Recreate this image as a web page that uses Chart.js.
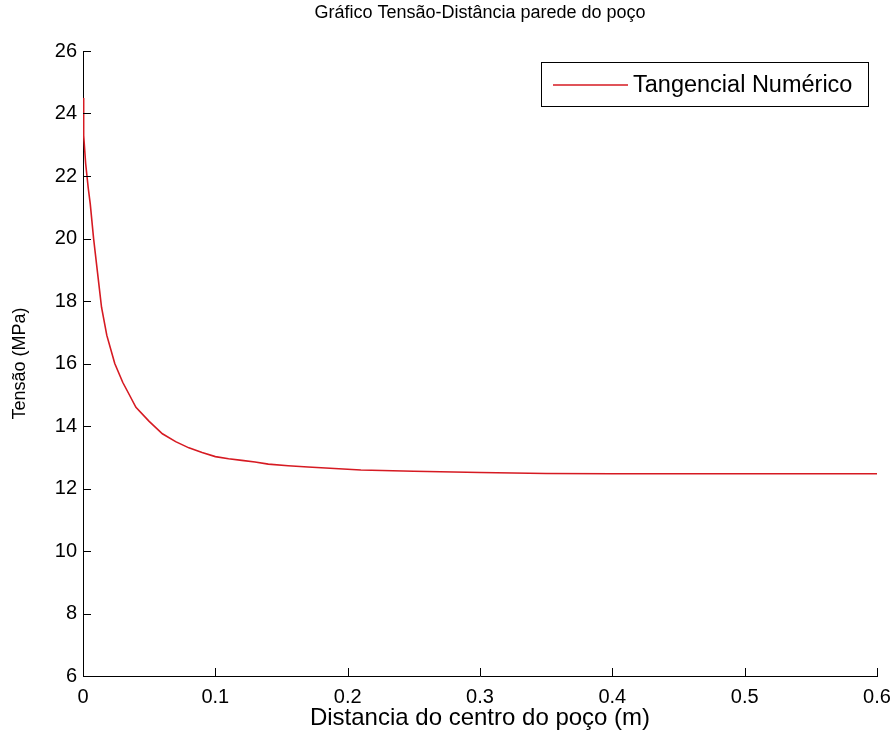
<!DOCTYPE html>
<html>
<head>
<meta charset="utf-8">
<script src="https://cdn.jsdelivr.net/npm/chart.js@4.4.0/dist/chart.umd.min.js"></script>
<style>
  html, body { margin: 0; padding: 0; background: #fff; }
  #wrap { width: 894px; height: 742px; }
</style>
</head>
<body>
<div id="wrap"><canvas id="tensaoChart" width="894" height="742"></canvas></div>
<script>
// distância do centro do poço (m)
const distancia = [0, 0.0005, 0.002, 0.004, 0.0055, 0.008, 0.011, 0.014, 0.018, 0.024, 0.03, 0.035, 0.04,
    0.05, 0.06, 0.07, 0.08, 0.09, 0.1, 0.11, 0.12, 0.13, 0.14, 0.155, 0.17, 0.19, 0.21, 0.25, 0.3,
    0.35, 0.4, 0.5, 0.6];
// tensão tangencial (MPa)
const tangencial = [24.5, 23.3, 22.4, 21.6, 21.1, 20.0, 18.9, 17.8, 16.9, 16.0, 15.4, 15.0, 14.6,
    14.15, 13.75, 13.5, 13.3, 13.15, 13.02, 12.95, 12.9, 12.85, 12.78, 12.73, 12.69, 12.64, 12.59, 12.55, 12.51,
    12.48, 12.47, 12.47, 12.47];
const xTicks = [0, 0.1, 0.2, 0.3, 0.4, 0.5, 0.6];
const yTicks = [6, 8, 10, 12, 14, 16, 18, 20, 22, 24, 26];

const FONT = '"Liberation Sans", Arial, Helvetica, sans-serif';
const lineColor = "rgb(214, 26, 34)";

// titulo, ticks para dentro e legenda no estilo matlab
const matlabStyle = {
    id: "matlabStyle",
    afterDraw(chart) {
        const ctx = chart.ctx;
        const area = chart.chartArea;
        const xs = chart.scales.x;
        const ys = chart.scales.y;
        ctx.save();

        // titulo
        ctx.fillStyle = "#000";
        ctx.font = "18px " + FONT;
        ctx.textAlign = "center";
        ctx.textBaseline = "middle";
        ctx.fillText("Gráfico Tensão-Distância parede do poço", (area.left + area.right) / 2, 13);

        // ticks
        ctx.strokeStyle = "#000";
        ctx.lineWidth = 1;
        ctx.beginPath();
        xTicks.forEach((v) => {
            const px = Math.round(xs.getPixelForValue(v)) + 0.5;
            ctx.moveTo(px, area.bottom);
            ctx.lineTo(px, area.bottom - 8);
        });
        yTicks.forEach((v) => {
            const py = Math.round(ys.getPixelForValue(v)) + 0.5;
            ctx.moveTo(area.left, py);
            ctx.lineTo(area.left + 8, py);
        });
        ctx.stroke();

        // legenda
        const ds = chart.data.datasets[0];
        ctx.fillStyle = "#fff";
        ctx.fillRect(541, 62, 327, 44);
        ctx.strokeStyle = "#000";
        ctx.strokeRect(541.5, 62.5, 327, 44);
        ctx.strokeStyle = ds.borderColor;
        ctx.lineWidth = 1.5;
        ctx.beginPath();
        ctx.moveTo(553, 85);
        ctx.lineTo(628, 85);
        ctx.stroke();
        ctx.fillStyle = "#000";
        ctx.font = "23.5px " + FONT;
        ctx.textAlign = "left";
        ctx.textBaseline = "middle";
        ctx.fillText(ds.label, 633, 86);

        ctx.restore();
    },
};

const ctx = document.getElementById("tensaoChart").getContext("2d");

let tensaoChart = new Chart(ctx, {
    type: "line",
    data: {
        datasets: [
            {
                label: "Tangencial Numérico",
                data: distancia.map((d, i) => ({ x: d, y: tangencial[i] })),
                borderColor: lineColor,
                borderWidth: 1.6,
                pointRadius: 0,
                tension: 0,
                fill: false,
            },
        ],
    },
    options: {
        responsive: false,
        animation: false,
        devicePixelRatio: 1,
        layout: { padding: { top: 51, right: 17, left: 0, bottom: 0 } },
        plugins: {
            legend: { display: false },
            tooltip: { enabled: false },
            title: { display: false },
        },
        scales: {
            x: {
                type: "linear",
                min: 0,
                max: 0.6,
                afterFit: (scale) => {
                    scale.height = 66;
                    scale.paddingLeft = 0;
                    scale.paddingRight = 0;
                },
                afterBuildTicks: (scale) => { scale.ticks = xTicks.map((v) => ({ value: v })); },
                grid: { display: false, drawTicks: false },
                border: { display: true, color: "#000", width: 1 },
                ticks: {
                    color: "#000",
                    padding: 9,
                    font: { family: FONT, size: 20 },
                    callback: (v) => String(Number(v.toFixed(1))),
                },
                title: {
                    display: true,
                    text: "Distancia do centro do poço (m)",
                    color: "#000",
                    font: { family: FONT, size: 24 },
                    padding: { top: 0, bottom: 9 },
                },
            },
            y: {
                type: "linear",
                min: 6,
                max: 26,
                afterFit: (scale) => {
                    scale.width = 83;
                    scale.paddingTop = 0;
                    scale.paddingBottom = 0;
                },
                afterBuildTicks: (scale) => { scale.ticks = yTicks.map((v) => ({ value: v })); },
                grid: { display: false, drawTicks: false },
                border: { display: true, color: "#000", width: 1 },
                ticks: {
                    color: "#000",
                    padding: 6,
                    font: { family: FONT, size: 20 },
                    callback: (v) => String(v),
                },
                title: {
                    display: true,
                    text: "Tensão (MPa)",
                    color: "#000",
                    font: { family: FONT, size: 18 },
                    padding: { top: 9, bottom: 0 },
                },
            },
        },
    },
    plugins: [matlabStyle],
});
</script>
</body>
</html>
